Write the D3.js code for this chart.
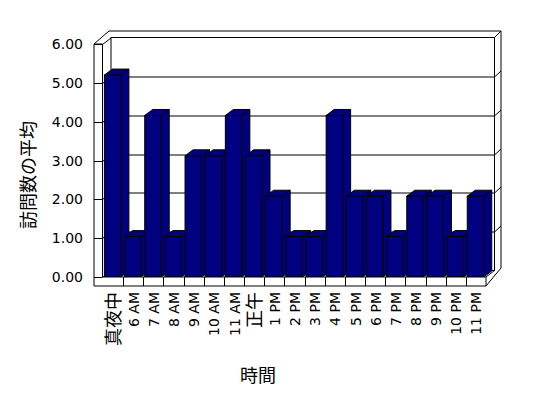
<!DOCTYPE html>
<html><head><meta charset="utf-8">
<script src="https://cdn.jsdelivr.net/npm/d3@7"></script>
<style>
html,body{margin:0;padding:0;background:#fff;}
svg{display:block;}
</style></head>
<body>
<svg id="chart" width="548" height="398"></svg>
<script>
const categories = ["真夜中","6 AM","7 AM","8 AM","9 AM","10 AM","11 AM","正午","1 PM","2 PM","3 PM","4 PM","5 PM","6 PM","7 PM","8 PM","9 PM","10 PM","11 PM"];
const values = [5.2,1.04,4.16,1.04,3.12,3.12,4.16,3.12,2.08,1.04,1.04,4.16,2.08,2.08,1.04,2.08,2.08,1.04,2.08];
const yTicks = [0,1,2,3,4,5,6];
const yTitle = "訪問数の平均";
const xTitle = "時間";

const svg = d3.select("#chart");
const latin = "'DejaVu Sans', 'Noto Sans CJK JP', sans-serif";
const cjk = "'Noto Sans CJK JP', sans-serif";

const y = d3.scaleLinear().domain([0,6]).range([277,44]);
const x = d3.scaleBand().domain(categories).range([103,486]);

const wallL = 94, wallIn = 102.5, floorB = 286, right = 486;
const D = [8.5,-6.5];      // front plane -> back wall front face
const B = [15,-13];        // front plane -> back of back wall
const barD = [8,-6];

const g = svg.append("g").attr("fill","none").attr("stroke","#000").attr("stroke-width",1);
function line(x1,y1,x2,y2){ g.append("line").attr("x1",x1).attr("y1",y1).attr("x2",x2).attr("y2",y2); }

const y0 = y(0), yTop = y(6);
g.append("rect").attr("x",wallIn+D[0]).attr("y",yTop+D[1]).attr("width",right-wallIn).attr("height",y0-yTop).attr("fill","#fff");
yTicks.forEach(t=>{
  const yy = Math.round(y(t))+0.5;
  if(t>0 && t<6){
    line(wallIn+D[0], yy+D[1], right+D[0], yy+D[1]);
    line(right+D[0], yy+D[1], right+B[0], yy+D[1]-6);
  }
  line(wallIn, yy, wallIn+D[0], yy+D[1]);
});
line(wallL, yTop, wallL+B[0], yTop+B[1]);
line(wallL+B[0], yTop+B[1], right+B[0], yTop+B[1]);
line(right+D[0], yTop+D[1], right+B[0], yTop+B[1]);
line(right+B[0], yTop+B[1], right+B[0], y0+B[1]+4);
line(right, y0, right+D[0], y0+D[1]);
line(right, floorB, right+B[0], y0+B[1]+4);

const bars = svg.append("g");
categories.forEach((c,i)=>{
  const bx = x(c)+1.4, bw = 16.5, top = y(values[i]);
  const s = bars.append("g").attr("fill","#000080").attr("stroke","#000").attr("stroke-width",1);
  s.append("polygon").attr("points",[[bx+bw,top],[bx+bw+barD[0],top+barD[1]],[bx+bw+barD[0],y0+barD[1]],[bx+bw,y0]].join(" "));
  s.append("polygon").attr("points",[[bx,top],[bx+bw,top],[bx+bw+barD[0],top+barD[1]],[bx+barD[0],top+barD[1]]].join(" "));
  s.append("rect").attr("x",bx).attr("y",top).attr("width",bw).attr("height",y0-top);
});

const f = svg.append("g").attr("fill","none").attr("stroke","#000");
f.append("polygon").attr("fill","#fff")
 .attr("points",[[wallL,yTop],[wallIn,yTop],[wallIn,y0],[right,y0],[right,floorB],[wallL,floorB]].join(" "));
yTicks.forEach(t=>{
  const yy = Math.round(y(t))+0.5;
  f.append("line").attr("x1",wallL).attr("x2",wallIn).attr("y1",yy).attr("y2",yy);
});
categories.slice(1).forEach(c=>{
  const xx = Math.round(x(c))+0.5;
  f.append("line").attr("x1",xx).attr("x2",xx).attr("y1",y0).attr("y2",floorB);
});

svg.append("g").selectAll("text").data(yTicks).join("text")
  .attr("x",83).attr("y",d=>y(d)).attr("dy","0.36em")
  .attr("text-anchor","end").attr("font-family",latin).attr("font-size",14)
  .attr("fill","#000")
  .text(d=>d.toFixed(2));

svg.append("g").selectAll("text").data(categories).join("text")
  .attr("transform",d=>`translate(${x(d)+x.bandwidth()/2+0.5},292) rotate(-90)`)
  .attr("text-anchor","end").attr("dy","0.36em").attr("fill","#000")
  .attr("font-family",d=>/[A-Z0-9]/.test(d)?latin:cjk)
  .attr("font-size",d=>/[A-Z0-9]/.test(d)?14:18)
  .text(d=>d);

svg.append("text").attr("transform","translate(29,175) rotate(-90)")
  .attr("text-anchor","middle").attr("dy","0.36em").attr("fill","#000")
  .attr("font-family",cjk).attr("font-size",18).text(yTitle);
svg.append("text").attr("x",258).attr("y",376).attr("dy","0.36em").attr("fill","#000")
  .attr("text-anchor","middle").attr("font-family",cjk).attr("font-size",18).text(xTitle);
</script>
</body></html>
